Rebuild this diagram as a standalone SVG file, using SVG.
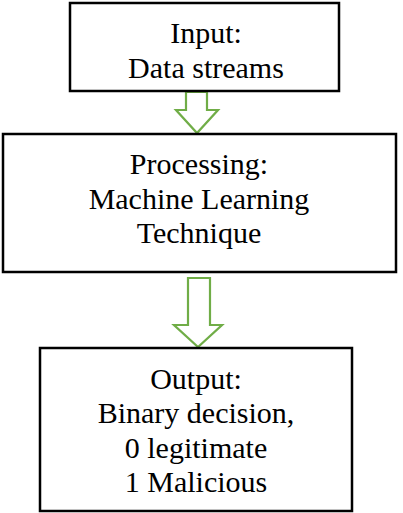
<svg xmlns="http://www.w3.org/2000/svg" width="403" height="513" viewBox="0 0 403 513">
<style>
.box{fill:#fff;stroke:#000;stroke-width:2.5}
.arr{fill:#fff;stroke:#70AD47;stroke-width:2.2;stroke-linejoin:miter}
text{font-family:"Liberation Serif","Times New Roman",serif;font-size:30px;fill:#000;text-anchor:middle}
</style>
<rect width="403" height="513" fill="#fff"/>
<g id="connectors">
<path class="arr" d="M186,92 L207,92 L207,110 L218,110 L197,133 L176,110 L186,110 Z"/>
<path class="arr" d="M188,278 L210,278 L210,325 L222,325 L198,347 L174,325 L188,325 Z"/>
</g>
<g id="input">
<rect class="box" x="70" y="3" width="269" height="88"/>
<text x="206" y="43">Input:</text>
<text x="206" y="78">Data streams</text>
</g>
<g id="processing">
<rect class="box" x="3" y="134" width="393" height="138"/>
<text x="199" y="174">Processing:</text>
<text x="199" y="209">Machine Learning</text>
<text x="199" y="243">Technique</text>
</g>
<g id="output">
<rect class="box" x="40" y="348" width="312" height="163"/>
<text x="196" y="389">Output:</text>
<text x="196" y="423">Binary decision,</text>
<text x="196" y="458">0 legitimate</text>
<text x="196" y="492">1 Malicious</text>
</g>
</svg>
